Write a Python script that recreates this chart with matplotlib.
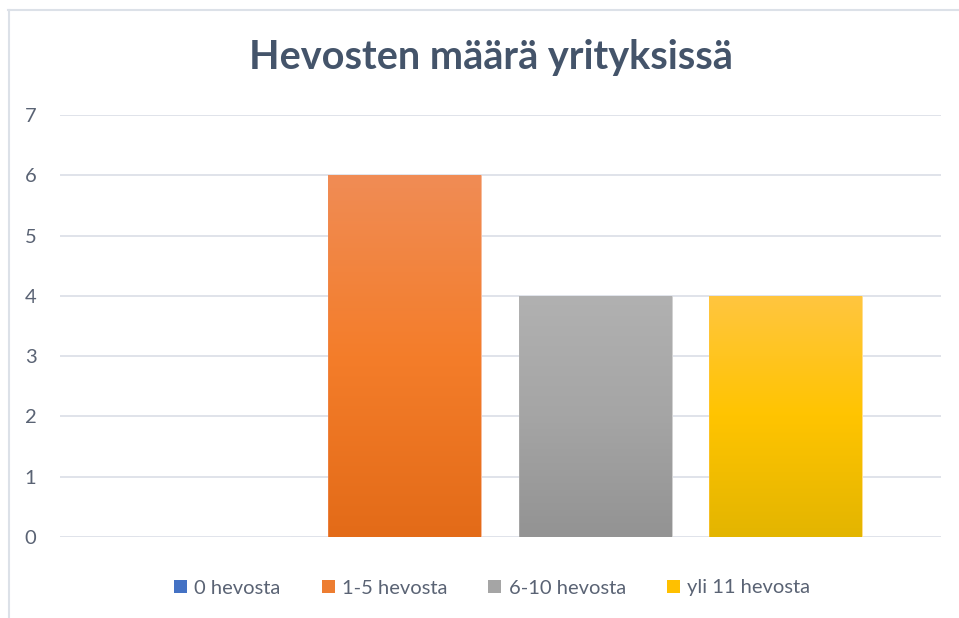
import numpy as np
import matplotlib.pyplot as plt
from matplotlib.colors import LinearSegmentedColormap
from matplotlib.patches import Patch
from matplotlib.lines import Line2D

plt.rcParams['font.family'] = ['Lato', 'DejaVu Sans']

series = ["0 hevosta", "1-5 hevosta", "6-10 hevosta", "yli 11 hevosta"]
values = [0, 6, 4, 4]
# gradient stops (top, middle, bottom) in the Excel style
grad_colors = [
    ["#7A9BD8", "#4472C4", "#3A62AB"],
    ["#F08C55", "#F47D2A", "#E36B18"],
    ["#B1B1B1", "#A5A5A5", "#939393"],
    ["#FFC640", "#FFC400", "#E3B500"],
]
legend_colors = ["#4472C4", "#ED7D31", "#A5A5A5", "#FFC000"]
yticks = [0, 1, 2, 3, 4, 5, 6, 7]

W, H = 959, 618
fig = plt.figure(figsize=(W / 100, H / 100), dpi=100)
ax = fig.add_axes([60 / W, (H - 537) / H, 881 / W, 422 / H])

bar_w = 0.803
for i, (v, cols) in enumerate(zip(values, grad_colors)):
    bar = ax.bar(i, v, width=bar_w, color=cols[1], edgecolor="white",
                 linewidth=0.8, zorder=2)[0]
    if v > 0:
        cmap = LinearSegmentedColormap.from_list("g%d" % i, cols[::-1])
        grad = np.linspace(0, 1, 256).reshape(-1, 1)
        im = ax.imshow(grad, extent=[i - bar_w / 2, i + bar_w / 2, 0, v],
                       origin="lower", aspect="auto", cmap=cmap, zorder=3)
        im.set_clip_path(bar)
        ax.bar(i, v, width=bar_w, color="none", edgecolor=cols[0],
               linewidth=0.6, alpha=0.7, zorder=4)

ax.set_xlim(-0.811, 3.814)
ax.set_ylim(0, 7)
ax.set_yticks(yticks)
ax.set_xticks([])
ax.grid(axis="y", color="#DDE1E8", linewidth=1.3, zorder=0)
ax.set_axisbelow(True)
for s in ax.spines.values():
    s.set_visible(False)
ax.tick_params(axis="y", length=0, pad=17, labelsize=14.5, labelcolor="#5A6374")

fig.text(491 / W, 1 - 58 / H, "Hevosten määrä yrityksissä", ha="center",
         va="center", fontsize=28.5, fontweight="bold", color="#44546A")

handles = [Patch(facecolor=c, edgecolor="none") for c in legend_colors]
fig.legend(handles, series, loc="center", ncol=4,
           bbox_to_anchor=(492 / W, 1 - 588 / H), frameon=False,
           handlelength=0.65, handleheight=0.65, handletextpad=0.35,
           columnspacing=2.05, fontsize=14.5, labelcolor="#5A6374")

# chart frame (top and left edge visible in the crop)
fig.add_artist(Line2D([8 / W, 1], [1 - 10 / H, 1 - 10 / H], color="#DCE1E8", linewidth=1.5))
fig.add_artist(Line2D([9 / W, 9 / W], [0, 1 - 10 / H], color="#DCE1E8", linewidth=1.5))

fig.savefig("out.png", dpi=100)
